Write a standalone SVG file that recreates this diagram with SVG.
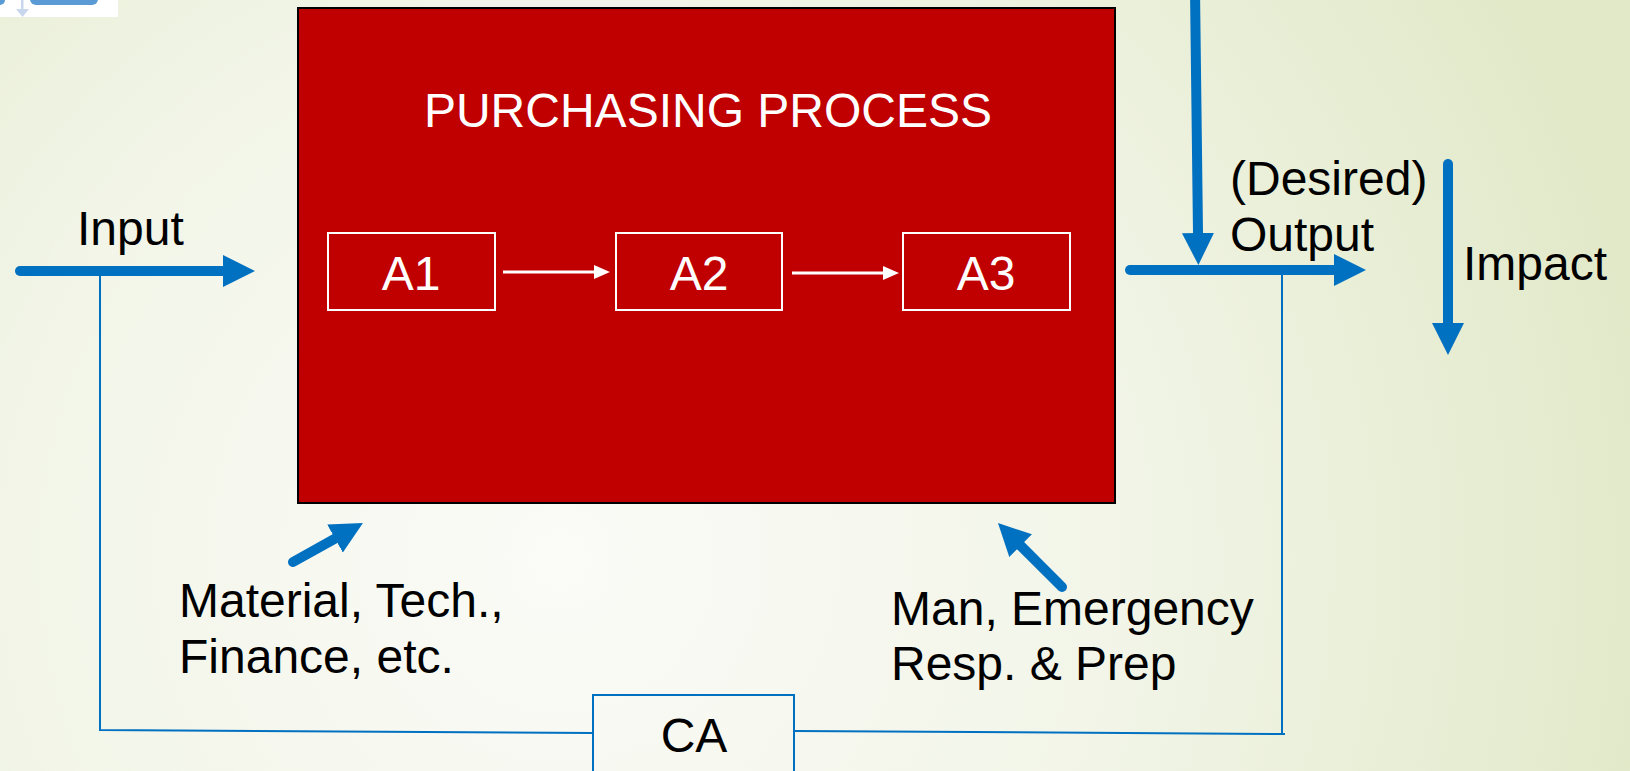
<svg xmlns="http://www.w3.org/2000/svg" width="1630" height="771" viewBox="0 0 1630 771">
  <defs>
    <radialGradient id="bg" gradientUnits="userSpaceOnUse" cx="560" cy="560" r="1100">
      <stop offset="0" stop-color="#FBFBF7"/>
      <stop offset="0.5" stop-color="#F2F5E8"/>
      <stop offset="1" stop-color="#E2E9C9"/>
    </radialGradient>
    <marker id="blueHead" viewBox="0 0 32 32" markerWidth="32" markerHeight="32" refX="0" refY="16" orient="auto" markerUnits="userSpaceOnUse">
      <path d="M0,0 L32,16 L0,32 Z" fill="#0070C0"/>
    </marker>
    <marker id="whiteHead" viewBox="0 0 16 14" markerWidth="16" markerHeight="14" refX="0" refY="7" orient="auto" markerUnits="userSpaceOnUse">
      <path d="M0,0 L16,7 L0,14 Z" fill="#FFFFFF"/>
    </marker>
  </defs>
  <style>
    .label { font-family: "Liberation Sans", Arial, sans-serif; font-size: 48px; fill: #000000; }
    .inner { font-family: "Liberation Sans", Arial, sans-serif; font-size: 48px; fill: #FFFFFF; text-anchor: middle; }
    .flow { fill: none; stroke: #0070C0; stroke-width: 10; stroke-linecap: round; marker-end: url(#blueHead); }
    .feedback { fill: none; stroke: #0070C0; stroke-width: 2; }
    .step { fill: none; stroke: #FFFFFF; stroke-width: 2; }
    .stepLink { fill: none; stroke: #FFFFFF; stroke-width: 3; marker-end: url(#whiteHead); }
  </style>

  <rect x="0" y="0" width="1630" height="771" fill="url(#bg)"/>

  <!-- corner fragment of a header graphic -->
  <g id="corner-graphic">
    <rect x="0" y="0" width="118" height="17" fill="#FFFFFF"/>
    <rect x="-10" y="-12" width="15" height="17" rx="5" fill="#5B9BD5"/>
    <rect x="30" y="-12" width="68" height="17" rx="6" fill="#5B9BD5"/>
    <rect x="21" y="0" width="2.5" height="10" fill="#C9D7EE"/>
    <path d="M16,9 L29,9 L22.5,17 Z" fill="#C9D7EE"/>
  </g>

  <!-- purchasing process block -->
  <g id="purchasing-process">
    <rect x="298" y="8" width="817" height="495" fill="#C00000" stroke="#000000" stroke-width="2"/>
    <text class="inner" x="708" y="127">PURCHASING PROCESS</text>
  </g>

  <g id="a1">
    <rect class="step" x="328" y="233" width="167" height="77"/>
    <text class="inner" x="411" y="290">A1</text>
  </g>
  <g id="a2">
    <rect class="step" x="616" y="233" width="166" height="77"/>
    <text class="inner" x="699" y="290">A2</text>
  </g>
  <g id="a3">
    <rect class="step" x="903" y="233" width="167" height="77"/>
    <text class="inner" x="986" y="290">A3</text>
  </g>

  <!-- corrective action box -->
  <g id="ca">
    <rect x="593" y="695" width="201" height="100" fill="none" stroke="#0070C0" stroke-width="2"/>
    <text class="label" x="694" y="752" text-anchor="middle">CA</text>
  </g>

  <!-- labels -->
  <g id="input-label"><text class="label" x="77" y="245">Input</text></g>
  <g id="output-label">
    <text class="label" x="1230" y="195">(Desired)</text>
    <text class="label" x="1230" y="251">Output</text>
  </g>
  <g id="impact-label"><text class="label" x="1463" y="280">Impact</text></g>
  <g id="resources-label">
    <text class="label" x="179" y="617">Material, Tech.,</text>
    <text class="label" x="179" y="673">Finance, etc.</text>
  </g>
  <g id="people-label">
    <text class="label" x="891" y="625">Man, Emergency</text>
    <text class="label" x="891" y="680">Resp. &amp; Prep</text>
  </g>

  <!-- connectors -->
  <g id="connectors">
    <line class="stepLink" x1="503" y1="272" x2="594" y2="272"/>
    <line class="stepLink" x1="792" y1="273" x2="883" y2="273"/>

    <polyline class="feedback" points="100,271 100,730 593,733"/>
    <polyline class="feedback" points="794,731 1285,734"/>
    <line class="feedback" x1="1282" y1="270" x2="1282" y2="734"/>

    <line class="flow" x1="20" y1="271" x2="223" y2="271"/>
    <line class="flow" x1="1195" y1="-10" x2="1198" y2="233"/>
    <line class="flow" x1="1130" y1="270" x2="1334" y2="270"/>
    <line class="flow" x1="1448" y1="164" x2="1448" y2="323"/>
    <line class="flow" x1="293" y1="562" x2="335" y2="538.6"/>
    <line class="flow" x1="1062" y1="587" x2="1020.6" y2="545.6"/>
  </g>
</svg>
